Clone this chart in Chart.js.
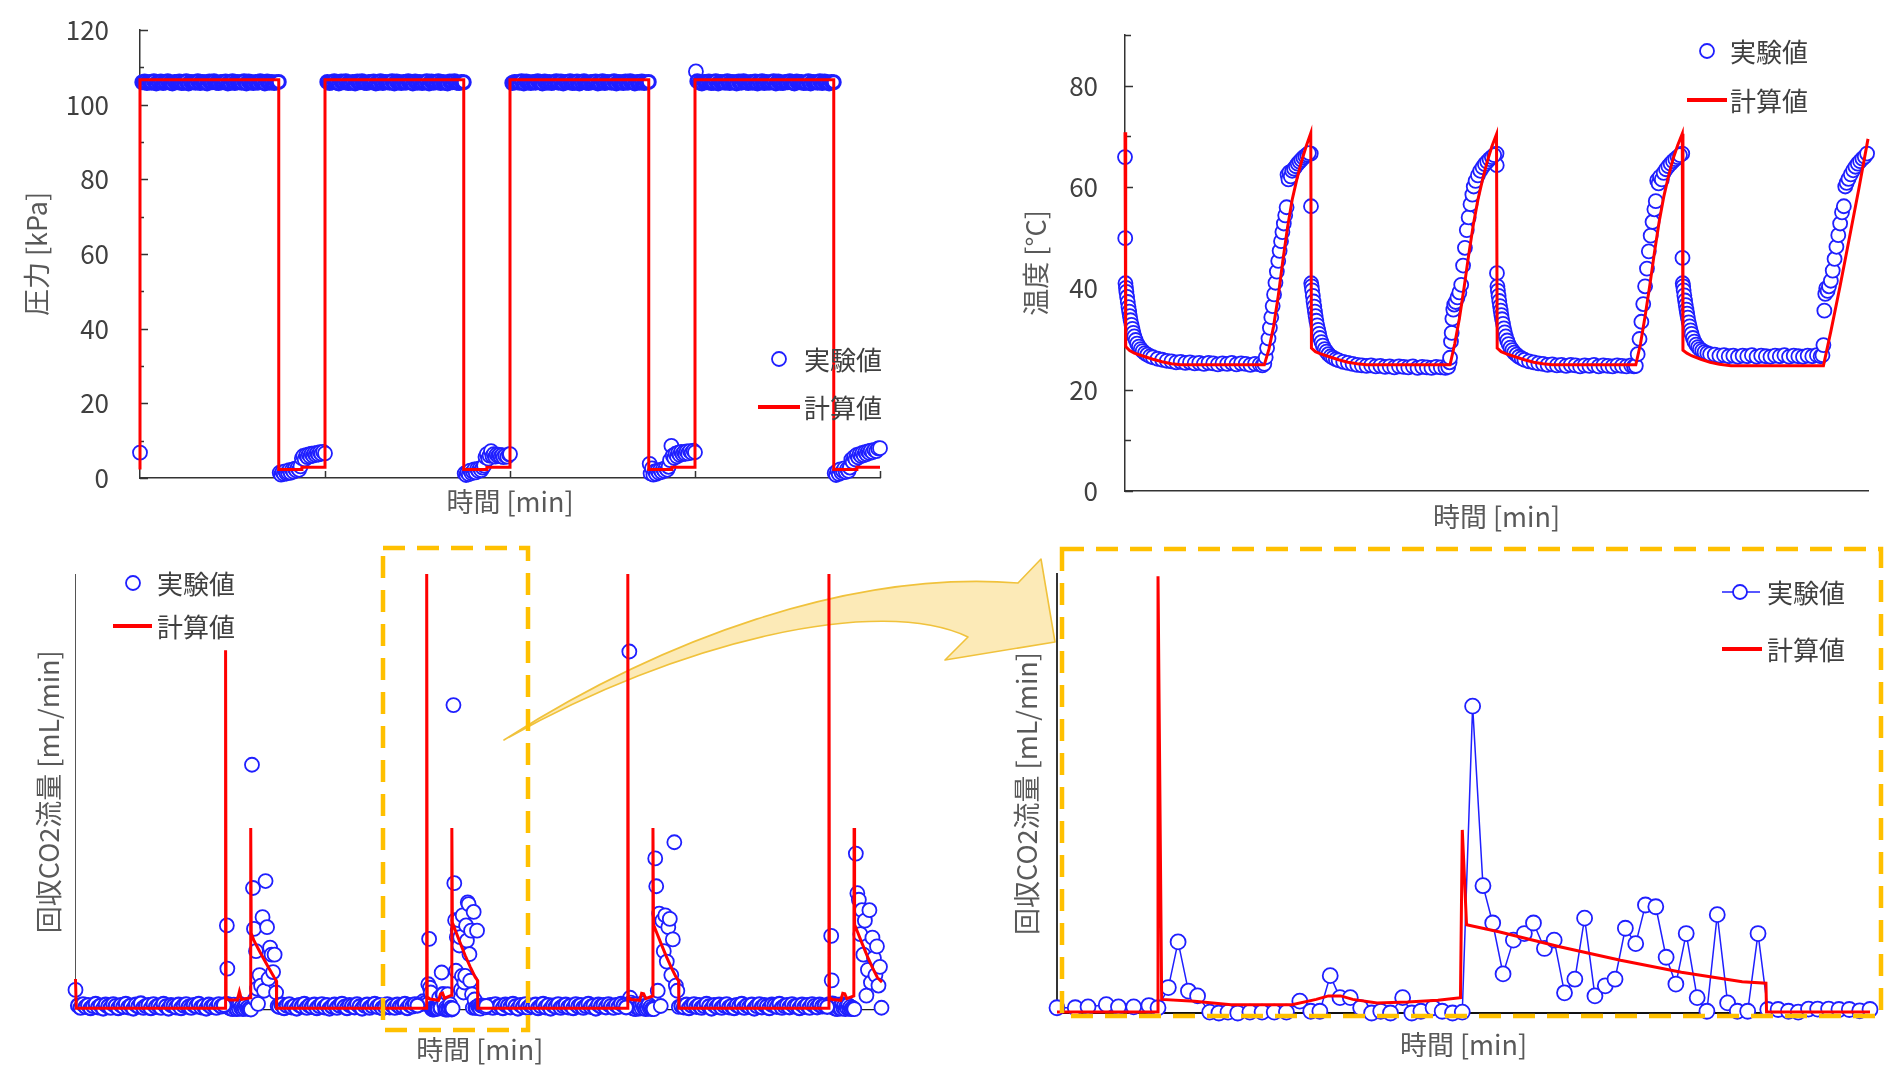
<!DOCTYPE html>
<html>
<head>
<meta charset="utf-8">
<script src="https://cdn.jsdelivr.net/npm/chart.js@4.4.0/dist/chart.umd.min.js"></script>
<style>
  html, body { margin: 0; padding: 0; background: #fff; }
  body { width: 1904px; height: 1065px; position: relative; overflow: hidden;
         font-family: 'Noto Sans CJK JP', 'Noto Sans', sans-serif; }
  canvas { position: absolute; }
  svg.ov { position: absolute; left: 0; top: 0; pointer-events: none; }
  .lg { position: absolute; display: flex; align-items: center; height: 26px;
        font-size: 26px; line-height: 26px; color: #404040; white-space: nowrap; }
  .lg svg { display: block; }
</style>
</head>
<body>

<!-- curved call-out arrow (sits under the charts) -->
<svg class="ov" width="1904" height="1065">
  <path d="M504,740 C660,640 850,570 1018,583 L1041,559 L1055,642 L945,660 L968,637 C880,595 680,640 504,740 Z"
        fill="rgba(250,220,135,0.6)" stroke="#f0c23c" stroke-width="1.6" stroke-linejoin="round"/>
</svg>

<canvas id="cPres"></canvas>
<canvas id="cTemp"></canvas>
<canvas id="cCo2"></canvas>
<canvas id="cZoom"></canvas>

<!-- dashed highlight boxes (above the charts) -->
<svg class="ov" width="1904" height="1065">
  <rect x="383" y="548" width="145" height="482" fill="none" stroke="#ffc000" stroke-width="4.5" stroke-dasharray="22 12"/>
  <rect x="1062" y="549" width="819" height="467" fill="none" stroke="#ffc000" stroke-width="4.5" stroke-dasharray="22 12"/>
</svg>

<!-- legends -->
<div class="lg" style="left:758px;top:346px"><svg width="42" height="26"><circle cx="21" cy="13" r="7" fill="#fff" stroke="#1f1fff" stroke-width="1.8"/></svg><span style="margin-left:4px">実験値</span></div>
<div class="lg" style="left:758px;top:394px"><svg width="42" height="26"><line x1="0" y1="13" x2="42" y2="13" stroke="#ff0000" stroke-width="4"/></svg><span style="margin-left:4px">計算値</span></div>

<div class="lg" style="left:1686px;top:38px"><svg width="41" height="26"><circle cx="21" cy="13" r="7" fill="#fff" stroke="#1f1fff" stroke-width="1.8"/></svg><span style="margin-left:3px">実験値</span></div>
<div class="lg" style="left:1686px;top:87px"><svg width="41" height="26"><line x1="1" y1="13" x2="41" y2="13" stroke="#ff0000" stroke-width="4"/></svg><span style="margin-left:3px">計算値</span></div>

<div class="lg" style="left:112px;top:570px"><svg width="41" height="26"><circle cx="21" cy="13" r="7" fill="#fff" stroke="#1f1fff" stroke-width="1.8"/></svg><span style="margin-left:4px">実験値</span></div>
<div class="lg" style="left:112px;top:613px"><svg width="41" height="26"><line x1="1" y1="13" x2="40" y2="13" stroke="#ff0000" stroke-width="4"/></svg><span style="margin-left:4px">計算値</span></div>

<div class="lg" style="left:1722px;top:579px"><svg width="41" height="26"><line x1="0" y1="13" x2="38" y2="13" stroke="#1f1fff" stroke-width="1.6"/><circle cx="18" cy="13" r="7" fill="#fff" stroke="#1f1fff" stroke-width="1.8"/></svg><span style="margin-left:4px">実験値</span></div>
<div class="lg" style="left:1722px;top:636px"><svg width="41" height="26"><line x1="0" y1="13" x2="40" y2="13" stroke="#ff0000" stroke-width="4"/></svg><span style="margin-left:4px">計算値</span></div>

<script>
// ---------- data (time in min, one cycle = 40 min) ----------

// pressure [kPa]
const presCalc = [[0,2.3],[0,106.7],[30,106.7],[30,2.3],[35,2.3],[35,2.9],[40,2.9],[40,106.7],[70,106.7],[70,2.3],[75,2.3],[75,2.9],[80,2.9],
  [80,106.7],[110,106.7],[110,2.3],[115,2.3],[115,2.9],[120,2.9],[120,106.7],[150,106.7],[150,2.3],[155,2.3],[155,2.9],[160,2.9]];
const presBandStart = [0.5, 40.5, 80.5, 120.5];
const presBandStep = 0.5;
const presBand1 = [106.0,106.2,105.8,106.1,105.9,106.3,105.7,106.0,106.2,105.8,106.0,106.3,105.9,105.7,106.1,106.0,106.2,105.8,105.9,106.3,
  105.7,106.1,106.0,105.9,106.3,105.8,106.1,106.0,105.7,106.2,106.0,106.3,105.9,105.8,106.1,106.0,106.2,105.7,105.9,106.3,
  105.8,106.1,106.0,105.9,106.3,105.7,106.2,106.0,105.8,106.1,105.9,106.3,106.0,105.7,106.2,105.9,106.1,105.8,106.0,106.1];
const presBand2 = [106.1,105.8,106.0,106.3,105.9,105.7,106.2,106.0,106.3,105.8,105.9,106.1,105.7,106.2,106.0,106.3,105.9,105.8,106.1,106.0,
  106.2,105.7,105.9,106.3,105.8,106.1,106.0,105.9,106.3,105.7,106.2,106.0,105.8,106.1,105.9,106.3,106.0,105.7,106.2,105.9,
  106.1,105.8,106.0,106.3,105.7,106.2,105.9,106.0,106.3,105.8,106.1,105.9,105.7,106.2,106.0,106.3,105.9,105.8,106.1,106.0];
const presBand3 = [105.8,106.1,106.0,105.9,106.3,105.7,106.2,106.0,105.8,106.1,105.9,106.3,106.0,105.7,106.2,105.9,106.1,105.8,106.0,106.3,
  105.9,106.2,105.7,106.1,106.0,106.3,105.8,105.9,106.2,105.7,106.0,106.3,105.9,105.8,106.1,106.0,106.2,105.7,105.9,106.3,
  105.8,106.1,106.0,105.9,106.3,105.7,106.1,106.0,105.8,106.2,105.9,106.3,106.0,105.7,106.1,105.9,106.2,105.8,106.0,106.1];
const presBand4 = [106.3,105.9,105.7,106.1,106.0,106.2,105.8,105.9,106.3,105.7,106.1,106.0,105.9,106.3,105.8,106.1,106.0,105.7,106.2,105.9,
  106.3,106.0,105.8,106.1,105.9,106.2,105.7,106.0,106.3,105.8,106.1,105.9,106.0,106.3,105.7,106.2,105.9,105.8,106.1,106.0,
  106.3,105.9,105.7,106.2,106.0,106.1,105.8,105.9,106.3,105.7,106.1,106.0,105.9,106.3,105.8,106.2,106.0,105.7,106.1,106.0];
const presPts = [[0,6.8],
  [30.2,1.4],[30.5,0.9],[30.8,1.6],[31.1,1.1],[31.4,1.8],[31.7,1.2],[32.0,1.5],[32.3,2.1],[32.6,1.4],[32.9,2.2],[33.2,1.7],[33.5,2.5],[33.8,2.0],[34.1,2.7],[34.4,2.2],[34.7,3.1],
  [35.0,5.3],[35.3,5.9],[35.6,5.0],[35.9,6.1],[36.2,5.6],[36.5,6.3],[36.8,5.8],[37.1,6.5],[37.4,6.0],[37.7,6.6],[38.0,6.2],[38.3,6.7],[38.6,6.3],[38.9,6.9],[39.2,6.5],[39.6,7.0],[40.0,6.6],
  [70.2,1.2],[70.5,0.8],[70.8,1.5],[71.1,1.0],[71.4,2.0],[71.7,1.3],[72.0,1.7],[72.3,2.3],[72.6,1.5],[72.9,2.4],[73.2,1.9],[73.5,2.6],[73.8,2.1],[74.1,2.8],[74.4,3.3],[74.7,5.6],
  [75.0,6.4],[75.3,5.2],[75.6,6.0],[75.9,7.2],[76.2,5.9],[76.5,6.4],[76.8,5.7],[77.1,6.3],[77.4,5.9],[77.7,6.2],[78.0,5.8],[78.3,6.1],[78.6,5.6],[79.0,6.0],[79.4,5.7],[79.8,6.3],[80.0,6.4],
  [110.2,3.8],[110.4,1.2],[110.7,2.6],[111.0,0.9],[111.3,1.8],[111.6,1.1],[111.9,2.0],[112.2,1.4],[112.5,2.2],[112.8,1.6],[113.1,2.4],[113.4,1.9],[113.7,2.7],[114.0,2.2],[114.3,3.0],[114.6,4.8],
  [114.9,8.6],[115.2,6.0],[115.5,5.4],[115.8,6.5],[116.1,5.8],[116.4,6.8],[116.7,6.2],[117.0,7.0],[117.3,6.4],[117.6,6.9],[117.9,6.5],[118.2,7.1],[118.5,6.6],[118.9,7.2],[119.3,6.8],[119.7,7.3],[120.0,6.9],
  [120.2,108.9],
  [150.2,1.3],[150.5,0.8],[150.8,1.9],[151.1,1.1],[151.4,2.3],[151.7,1.4],[152.0,1.9],[152.3,2.6],[152.6,1.6],[152.9,2.4],[153.2,1.9],[153.5,2.8],[153.8,4.9],[154.1,4.3],[154.4,5.6],[154.7,5.0],
  [155.0,6.2],[155.3,5.5],[155.6,6.4],[155.9,5.9],[156.2,6.7],[156.5,6.1],[156.8,6.9],[157.1,6.4],[157.4,7.1],[157.7,6.7],[158.0,7.3],[158.4,6.9],[158.8,7.5],[159.2,7.2],[159.6,7.9],[160.0,8.0]];
const presYMajor = [0, 20, 40, 60, 80, 100, 120];
const presYMinor = [10, 30, 50, 70, 90, 110];
const presXTicks = [40, 80, 120, 160];

// temperature [°C]
const tempCalc = [[0,70.8],[0.15,28.5],[1,27.7],[2,27.2],[4,26.6],[6,26.0],[8,25.5],[10,25.1],[12,24.9],[30,24.9],[31,28],[32,32.5],[33,38.5],[34,45.5],[35,52],[36,57.5],[37,61.5],[38,65],[39,68],[40,70.6],
  [40.15,28.2],[41,27.5],[42,27.1],[44,26.5],[46,25.9],[48,25.4],[50,25.1],[52,24.9],[70,24.9],[71,29],[72,34],[73,40],[74,46.5],[75,52.5],[76,57.5],[77,61.5],[78,65],[79,68],[80,70.4],
  [80.15,28.2],[81,27.5],[82,27.1],[84,26.5],[86,25.9],[88,25.4],[90,25.1],[92,24.9],[110,24.9],[111,29],[112,34.5],[113,40.5],[114,47],[115,53],[116,58],[117,62],[118,65.5],[119,68.2],[120,70.5],
  [120.15,27.8],[121,27.2],[122,26.7],[124,26.0],[126,25.4],[128,25.0],[130.5,24.7],[150.4,24.7],[152,31.5],[154,40.5],[156,50],[158,59.5],[160,69.5]];
const tempExp1 = [[0,65.9],[0.05,49.9],[0.1,41.0],[0.2,40.1],[0.3,39.3],[0.45,38.3],[0.6,37.3],[0.75,36.3],[0.9,35.4],[1.05,34.5],[1.2,33.7],[1.4,32.8],[1.6,32.0],[1.8,31.2],[2.0,30.5],[2.3,29.8],[2.6,29.1],[3.0,28.5],[3.4,28.0],[3.8,27.6],[4.3,27.2],[4.8,26.9],[5.4,26.6],
  [6,26.4],[7,26.1],[8,25.9],[9,25.7],[10,25.6],[11,25.4],[12,25.5],[13,25.3],[14,25.4],[15,25.2],[16,25.3],[17,25.1],[18,25.3],[19,25.2],[20,25.0],[21,25.2],[22,25.1],[23,25.3],[24,25.0],[25,25.2],[26,25.1],[27,24.9],[28,25.1],[29,25.0],[29.6,24.8],
  [30.0,25.1],[30.3,26.4],[30.6,28.2],[30.9,30.1],[31.2,32.2],[31.5,34.3],[31.8,36.5],[32.1,38.8],[32.4,41.1],[32.7,43.3],[33.0,45.4],[33.3,47.4],[33.6,49.3],[33.9,51.1],[34.2,52.8],[34.5,54.4],[34.8,56.0],
  [35.0,62.4],[35.2,61.5],[35.4,62.9],[35.7,62.1],[36.0,63.2],[36.4,63.6],[36.8,64.1],[37.2,64.6],[37.6,65.0],[38.0,65.4],[38.4,65.8],[38.8,66.1],[39.2,66.4],[39.6,66.7]];
const tempExp2 = [[40.0,66.6],[40.05,56.2],[40.1,41.0],[40.2,40.4],[40.3,39.6],[40.45,38.5],[40.6,37.4],[40.75,36.4],[40.9,35.4],[41.05,34.5],[41.2,33.6],[41.4,32.7],[41.6,31.8],[41.8,31.0],[42.0,30.2],[42.3,29.4],[42.6,28.7],[43.0,28.0],[43.4,27.5],[43.8,27.0],[44.3,26.6],[44.8,26.3],[45.4,26.0],
  [46,25.8],[47,25.5],[48,25.3],[49,25.1],[50,24.9],[51,24.8],[52,24.7],[53,24.8],[54,24.6],[55,24.7],[56,24.5],[57,24.6],[58,24.4],[59,24.6],[60,24.5],[61,24.4],[62,24.6],[63,24.3],[64,24.5],[65,24.4],[66,24.3],[67,24.5],[68,24.4],[69,24.3],[69.6,24.5],
  [69.9,25.4],[70.0,26.3],[70.2,29.5],[70.35,31.2],[70.5,34.0],[70.7,35.8],[70.9,36.8],[71.2,37.3],[71.6,38.2],[72.0,39.2],[72.4,40.7],[72.8,44.5],[73.2,48.0],[73.6,51.5],[74.0,54.0],[74.4,56.6],[74.8,58.5],
  [75.1,60.1],[75.5,61.2],[76.0,62.3],[76.5,63.2],[77.0,63.9],[77.5,64.5],[78.0,65.0],[78.5,65.5],[79.0,65.9],[79.5,66.3]];
const tempExp3 = [[80.0,66.6],[80.05,64.3],[80.1,43.0],[80.2,40.4],[80.3,39.5],[80.45,38.5],[80.6,37.5],[80.75,36.5],[80.9,35.6],[81.05,34.7],[81.2,33.9],[81.4,33.0],[81.6,32.1],[81.8,31.3],[82.0,30.5],[82.3,29.7],[82.6,29.0],[83.0,28.3],[83.4,27.8],[83.8,27.3],[84.3,26.9],[84.8,26.5],[85.4,26.2],
  [86,25.9],[87,25.6],[88,25.4],[89,25.2],[90,25.1],[91,24.9],[92,25.0],[93,24.8],[94,24.9],[95,24.7],[96,24.9],[97,24.8],[98,24.6],[99,24.8],[100,24.7],[101,24.9],[102,24.6],[103,24.8],[104,24.7],[105,24.6],[106,24.8],[107,24.7],[108,24.6],[109,24.8],[109.6,24.6],
  [110.0,24.7],[110.4,27.0],[110.8,30.0],[111.2,33.4],[111.6,36.9],[112.0,40.4],[112.4,43.9],[112.8,47.3],[113.2,50.4],[113.6,53.1],[114.0,55.6],[114.3,57.2],[114.6,61.3],[114.9,60.7],
  [115.2,62.0],[115.6,61.5],[116.0,62.8],[116.5,63.5],[117.0,64.1],[117.5,64.6],[118.0,65.1],[118.5,65.5],[119.0,65.9],[119.5,66.3]];
const tempExp4 = [[120.0,66.6],[120.05,46.0],[120.1,41.0],[120.2,40.4],[120.3,39.6],[120.45,38.6],[120.6,37.6],[120.75,36.7],[120.9,35.8],[121.05,35.0],[121.2,34.2],[121.4,33.3],[121.6,32.5],[121.8,31.7],[122.0,31.0],[122.3,30.2],[122.6,29.5],[123.0,28.9],[123.4,28.4],[123.8,28.0],[124.3,27.7],[124.8,27.4],[125.4,27.2],
  [126,27.0],[127,26.9],[128,26.7],[129,26.8],[130,26.6],[131,26.7],[132,26.5],[133,26.7],[134,26.6],[135,26.8],[136,26.5],[137,26.7],[138,26.6],[139,26.5],[140,26.7],[141,26.6],[142,26.8],[143,26.5],[144,26.7],[145,26.6],[146,26.5],[147,26.7],[148,26.6],[149,26.8],[149.8,26.6],
  [150.2,26.8],[150.4,28.8],[150.6,35.6],[150.8,38.9],[151.0,40.0],[151.3,39.5],[151.6,40.4],[152.0,41.5],[152.4,43.5],[152.8,45.8],[153.2,48.2],[153.6,50.5],[154.0,52.8],[154.4,55.0],[154.8,56.2],
  [155.1,60.1],[155.4,60.8],[155.8,61.6],[156.3,62.5],[156.8,63.3],[157.3,64.0],[157.8,64.6],[158.3,65.1],[158.8,65.6],[159.3,66.0],[159.8,66.6]];
const tempYMajor = [0, 20, 40, 60, 80];
const tempYMinor = [10, 30, 50, 70, 90];

// recovered CO2 flow [mL/min] (relative scale 0-100)
const co2Calc = [[0,7.0],[0.15,0.3],[29.85,0.3],[29.85,82.5],[29.95,2.6],[30.5,2.2],[32.2,2.2],[32.6,4.1],[33.0,2.3],[34.8,2.7],[34.85,41.7],[34.95,17.5],[35.5,15.8],[36.5,13.6],[37.5,11.5],[38.5,9.4],[39.5,7.4],[39.95,6.6],[40.0,0.3],
  [69.85,0.3],[69.85,100],[69.95,2.9],[70.5,2.4],[72.2,2.1],[72.6,3.6],[73.0,3.8],[73.4,2.6],[74.8,3.3],[74.85,41.7],[74.95,20.0],[75.5,18.3],[76.5,15.3],[77.5,12.4],[78.5,9.8],[79.5,7.4],[79.95,6.7],[80.0,0.3],
  [109.85,0.3],[109.85,100],[109.95,2.8],[110.5,2.3],[112.2,2.1],[112.6,3.7],[113.0,3.6],[113.4,2.5],[114.8,3.1],[114.85,41.7],[114.95,19.5],[115.5,17.9],[116.5,15.0],[117.5,12.2],[118.5,9.6],[119.5,7.3],[119.95,6.6],[120.0,0.3],
  [149.85,0.3],[149.85,100],[149.95,2.8],[150.5,2.3],[152.2,2.1],[152.6,3.7],[153.0,3.6],[153.4,2.5],[154.8,3.1],[154.85,41.7],[154.95,19.5],[155.5,17.9],[156.5,15.0],[157.5,12.2],[158.5,9.6],[159.5,7.3],[160.4,6.3]];
const co2BandStart = [0.5, 40.5, 82.0, 120.5];
const co2BandStep = 0.5;
const co2Band1 = [0.9,0.4,1.2,0.6,1.0,0.3,0.8,1.3,0.5,0.9,0.2,1.1,0.7,0.4,1.2,0.8,0.3,1.0,0.6,1.3,0.5,0.9,0.2,1.1,0.7,1.4,0.4,0.8,1.0,0.3,
  1.2,0.6,0.9,0.4,1.3,0.7,0.2,1.0,0.8,0.5,1.1,0.3,0.9,1.2,0.6,0.4,1.0,0.7,1.3,0.5,0.8,0.2,1.1,0.6,0.9,0.4,1.2,0.7,1.0];
const co2Band2 = [0.6,1.1,0.3,0.9,1.2,0.5,0.8,0.2,1.0,0.7,1.3,0.4,0.9,0.6,1.1,0.3,0.8,1.2,0.5,1.0,0.2,0.7,1.1,0.4,0.9,1.3,0.6,0.3,1.0,0.8,
  0.5,1.2,0.7,0.2,0.9,1.1,0.4,0.8,1.3,0.6,1.0,0.3,0.7,1.2,0.5,0.9,0.4,1.1,0.6,0.8,1.3,0.3,1.0,0.7,1.2,0.9];
const co2Band3 = [0.7,1.0,0.4,1.2,0.6,0.9,0.3,1.1,0.8,0.5,1.3,0.7,0.2,1.0,0.6,1.2,0.4,0.9,0.7,1.1,0.3,0.8,1.3,0.5,1.0,0.2,0.9,0.6,1.2,0.4,
  0.8,1.1,0.5,0.9,0.3,1.2,0.7,1.0,0.4,0.8,1.3,0.6,0.9,0.2,1.1,0.7,1.0,0.5,1.2,0.8,0.4,1.0,0.6,1.3,0.9,0.5];
const co2Band4 = [0.8,0.5,1.1,0.3,0.9,1.2,0.6,1.0,0.4,0.8,1.3,0.7,0.2,1.0,0.6,1.1,0.4,0.9,1.2,0.5,0.8,0.3,1.0,0.7,1.3,0.4,0.9,0.6,1.1,0.2,
  0.8,1.2,0.5,1.0,0.7,0.3,1.1,0.9,0.6,1.3,0.4,0.8,1.0,0.5,1.2,0.7,0.9,0.3,1.1,0.6,1.0,0.4,1.2,0.8,0.5,1.1,0.7,0.9,0.6];
const co2Pts = [[0,4.5],
  [29.9,1.3],[30.1,19.3],[30.2,9.4],[30.35,1.2],[30.5,0.4],[30.7,1.0],[30.9,0.2],[31.1,0.8],[31.3,0.1],[31.5,1.1],[31.7,0.3],[31.9,0.7],[32.1,0.1],[32.3,0.9],[32.5,0.2],[32.7,1.3],[32.9,0.4],[33.1,0.8],[33.3,0.1],[33.5,0.6],[33.7,0.2],[33.9,1.0],[34.1,0.3],[34.3,0.5],[34.5,0.1],[34.7,0.2],[34.9,0.0],
  [35.1,56.2],[35.3,27.9],[35.5,18.5],[35.7,2.4],[35.9,13.4],[36.1,4.8],[36.3,1.3],[36.6,7.9],[36.9,5.5],[37.2,21.2],[37.5,4.3],[37.8,29.5],[38.1,18.9],[38.4,7.1],[38.7,14.2],[39.0,12.6],[39.3,8.6],[39.6,12.6],[39.9,3.9],[40.2,0.8],
  [109.9,1.1],[110.15,82.2],[110.3,2.7],[110.45,1.6],[110.6,0.4],[110.8,1.1],[111.0,0.2],[111.2,0.9],[111.4,0.1],[111.6,1.2],[111.8,0.3],[112.0,0.7],[112.2,0.2],[112.4,1.0],[112.6,0.3],[112.8,1.4],[113.0,0.5],[113.2,0.8],[113.4,0.1],[113.6,0.6],[113.8,0.2],[114.0,1.1],[114.2,0.3],[114.4,0.6],[114.6,0.1],[114.8,0.3],[115.0,0.1],
  [115.3,34.7],[115.5,28.3],[115.8,4.3],[116.1,22.0],[116.4,0.8],[116.7,20.4],[117.0,13.4],[117.3,21.6],[117.6,11.0],[117.9,18.9],[118.2,20.8],[118.5,7.9],[118.8,16.1],[119.1,38.4],[119.4,5.5],[119.7,4.3],[120.0,0.6],
  [149.9,1.2],[150.3,16.9],[150.4,6.7],[150.55,1.4],[150.7,0.5],[150.9,1.2],[151.1,0.2],[151.3,0.9],[151.5,0.1],[151.7,1.1],[151.9,0.3],[152.1,0.8],[152.3,0.2],[152.5,1.2],[152.7,0.4],[152.9,0.9],[153.1,0.1],[153.3,0.7],[153.5,0.3],[153.7,1.0],[153.9,0.2],[154.1,0.6],[154.3,0.1],[154.5,0.4],[154.7,0.2],[154.9,0.1],
  [155.2,35.8],[155.5,26.7],[155.8,25.2],[156.1,17.3],[156.4,22.8],[156.7,12.6],[157.0,20.4],[157.3,3.2],[157.6,9.1],[157.9,22.8],[158.2,6.2],[158.5,16.5],[158.8,11.8],[159.1,7.9],[159.4,14.5],[159.7,5.5],[160.0,9.8],[160.3,0.4]];

// detail of the 2nd desorption step (same experiment, 68.3 - 81.7 min)
const zoomExp = [[68.34,1.2],[68.64,1.2],[68.85,1.4],[69.15,1.9],[69.35,1.4],[69.60,1.4],[69.85,1.7],[70.00,1.2],[70.17,5.8],[70.33,16.2],[70.50,5.0],[70.65,3.9],[70.85,0.2],[71.00,0],[71.15,0.2],[71.31,0],[71.51,0.2],[71.71,0.2],[71.91,0.2],[72.11,0.2],
  [72.33,2.7],[72.51,0.4],[72.66,0.4],[72.83,8.5],[72.99,3.5],[73.16,3.5],[73.33,1.2],[73.51,0],[73.66,0.4],[73.82,0],[74.02,3.5],[74.17,0],[74.32,0.4],[74.52,1.2],[74.67,0.4],[74.84,0],[75.00,0.2],
  [75.17,69.9],[75.34,29.0],[75.50,20.5],[75.67,8.9],[75.84,16.6],[76.02,18.1],[76.17,20.5],[76.35,14.7],[76.51,16.6],[76.68,4.6],[76.85,7.7],[77.01,21.6],[77.18,3.9],[77.35,6.2],[77.51,7.7],[77.68,19.3],[77.85,15.8],
  [78.01,24.6],[78.18,24.2],[78.35,12.7],[78.51,6.6],[78.68,18.1],[78.86,3.5],[79.02,0.4],[79.19,22.4],[79.36,2.3],[79.52,0.4],[79.69,0.4],[79.86,18.1],[80.02,0.8],[80.19,0.8],[80.36,0.4],[80.52,0.2],[80.69,0.9],[80.84,0.9],[81.02,0.9],[81.19,0.8],[81.36,0.8],[81.53,0.5],[81.70,0.8]];
const zoomCalc = [[68.34,0.2],[70.0,0.2],[70.0,99.5],[70.06,3.1],[70.6,2.7],[71.2,1.9],[71.6,1.9],[72.2,1.9],[72.6,3.1],[72.8,3.9],[73.0,3.9],[73.2,3.1],[73.6,2.3],[74.1,2.5],[74.6,2.9],[74.97,3.5],
  [75.0,41.7],[75.07,20.1],[75.6,18.5],[76.6,15.1],[77.6,12.0],[78.6,9.3],[79.6,7.1],[79.99,6.8],[80.0,0.2],[81.70,0.2]];

// ---------- drawing ----------
Chart.defaults.font.family = "'Noto Sans CJK JP', 'Noto Sans', sans-serif";
const BLUE = '#1f1fff';
const RED = '#ff0000';
const TICK_C = '#404040';
const TITLE_C = '#595959';

const xy = list => list.map(p => ({ x: p[0], y: p[1] }));
const band = (start, step, vals) => vals.map((v, i) => ({ x: start + i * step, y: v }));

// short tick marks drawn on the inside of the axes
const innerTicks = {
  id: 'innerTicks',
  beforeDatasetsDraw(chart, args, o) {
    if (!o || (!o.y && !o.x)) return;
    const { ctx, chartArea: a, scales } = chart;
    ctx.save();
    ctx.strokeStyle = '#333';
    ctx.lineWidth = 1.5;
    ctx.beginPath();
    (o.y || []).forEach(([v, len]) => {
      const py = Math.round(scales.y.getPixelForValue(v)) + 0.5;
      ctx.moveTo(a.left, py); ctx.lineTo(a.left + len, py);
    });
    (o.x || []).forEach(([v, len]) => {
      const px = Math.round(scales.x.getPixelForValue(v)) + 0.5;
      ctx.moveTo(px, a.bottom); ctx.lineTo(px, a.bottom - len);
    });
    ctx.stroke();
    ctx.restore();
  }
};

function expSet(data, extra) {
  return Object.assign({
    data, showLine: false, pointRadius: 7, pointBorderWidth: 1.8,
    pointBorderColor: BLUE, pointBackgroundColor: '#fff', borderColor: BLUE,
    backgroundColor: '#fff', clip: false, order: 2
  }, extra || {});
}
function calcSet(data) {
  return { data, showLine: true, borderColor: RED, borderWidth: 3, pointRadius: 0,
           tension: 0, clip: false, order: 1 };
}

function build(id, g, datasets, ax) {
  const cv = document.getElementById(id);
  cv.width = g.cw; cv.height = g.ch;
  cv.style.left = g.cl + 'px'; cv.style.top = g.ct + 'px';
  const titleFont = { size: 27, lineHeight: 1 };
  return new Chart(cv, {
    type: 'scatter',
    data: { datasets },
    plugins: [innerTicks],
    options: {
      responsive: false, animation: false, events: [],
      layout: { padding: { left: 0, top: g.T - g.ct, right: g.cl + g.cw - g.R, bottom: 0 } },
      plugins: { legend: { display: false }, tooltip: { enabled: false }, innerTicks: ax.inner || {} },
      scales: {
        x: {
          type: 'linear', min: ax.xmin, max: ax.xmax,
          afterFit: s => { s.height = g.ct + g.ch - g.B; s.paddingLeft = 0; s.paddingRight = 0; },
          ticks: { display: false },
          grid: { display: false, drawTicks: false },
          border: { display: true, color: ax.xBorder || '#333', width: ax.xBorderW || 1.5 },
          title: { display: true, text: '時間 [min]', color: TITLE_C, font: titleFont,
                   padding: { top: 0, bottom: g.ct + g.ch - g.xty - 13.5 } }
        },
        y: {
          type: 'linear', min: ax.ymin, max: ax.ymax,
          afterFit: s => { s.width = g.L - g.cl; s.paddingTop = 0; s.paddingBottom = 0; },
          ticks: ax.yStep ? {
            display: true, stepSize: ax.yStep, includeBounds: false, padding: ax.tickPad,
            color: TICK_C, font: { size: 26 },
            callback: v => (v % ax.yStep === 0 ? v : '')
          } : { display: false },
          grid: { display: false, drawTicks: false },
          border: { display: true, color: ax.yBorder || '#333', width: ax.yBorderW || 1.5 },
          title: { display: true, text: ax.yTitle, color: TITLE_C, font: titleFont,
                   padding: { top: g.ytx - g.cl - 13.5, bottom: 0 } }
        }
      }
    }
  });
}

// pressure
build('cPres',
  { cl: 0, ct: 0, cw: 900, ch: 530, L: 140, R: 880, T: 30, B: 478, ytx: 36.5, xty: 502 },
  [
    calcSet(xy(presCalc)),
    expSet(band(presBandStart[0], presBandStep, presBand1), { pointBorderWidth: 3, pointRadius: 6.5 }),
    expSet(band(presBandStart[1], presBandStep, presBand2), { pointBorderWidth: 3, pointRadius: 6.5 }),
    expSet(band(presBandStart[2], presBandStep, presBand3), { pointBorderWidth: 3, pointRadius: 6.5 }),
    expSet(band(presBandStart[3], presBandStep, presBand4), { pointBorderWidth: 3, pointRadius: 6.5 }),
    expSet(xy(presPts))
  ],
  { xmin: 0, xmax: 160, ymin: 0, ymax: 120, yStep: 20, tickPad: 31, yTitle: '圧力 [kPa]',
    inner: { y: presYMajor.map(v => [v, 8]).concat(presYMinor.map(v => [v, 4])),
             x: presXTicks.map(v => [v, 7]) } });

// temperature
build('cTemp',
  { cl: 960, ct: 0, cw: 930, ch: 540, L: 1125, R: 1868, T: 35, B: 491, ytx: 1035.6, xty: 517 },
  [
    calcSet(xy(tempCalc)),
    expSet(xy(tempExp1)), expSet(xy(tempExp2)), expSet(xy(tempExp3)), expSet(xy(tempExp4))
  ],
  { xmin: 0, xmax: 160, ymin: 0, ymax: 90, yStep: 20, tickPad: 27, yTitle: '温度 [°C]',
    inner: { y: tempYMajor.map(v => [v, 8]).concat(tempYMinor.map(v => [v, 6])) } });

// recovered CO2 flow, whole run
const bandStyle = { pointBorderWidth: 2.2 };
build('cCo2',
  { cl: 0, ct: 540, cw: 900, ch: 525, L: 75.5, R: 884, T: 574, B: 1009.5, ytx: 48.7, xty: 1050 },
  [
    calcSet(xy(co2Calc)),
    expSet(band(co2BandStart[0], co2BandStep, co2Band1), bandStyle),
    expSet(band(co2BandStart[1], co2BandStep, co2Band2), bandStyle),
    expSet(xy(zoomExp)),
    expSet(band(co2BandStart[2], co2BandStep, co2Band3), bandStyle),
    expSet(band(co2BandStart[3], co2BandStep, co2Band4), bandStyle),
    expSet(xy(co2Pts))
  ],
  { xmin: 0, xmax: 160.8, ymin: 0, ymax: 100, yTitle: '回収CO2流量 [mL/min]',
    yBorder: '#555', yBorderW: 1, xBorder: '#222', xBorderW: 1.2 });

// recovered CO2 flow, zoomed cycle
build('cZoom',
  { cl: 960, ct: 540, cw: 944, ch: 525, L: 1057, R: 1870, T: 574, B: 1013, ytx: 1026.5, xty: 1045 },
  [
    calcSet(xy(zoomCalc)),
    expSet(xy(zoomExp), { showLine: true, borderWidth: 1.5, pointRadius: 7.5 })
  ],
  { xmin: 68.34, xmax: 81.70, ymin: 0, ymax: 100, yTitle: '回収CO2流量 [mL/min]',
    yBorder: '#333', yBorderW: 2, xBorder: '#111', xBorderW: 2 });
</script>
</body>
</html>
